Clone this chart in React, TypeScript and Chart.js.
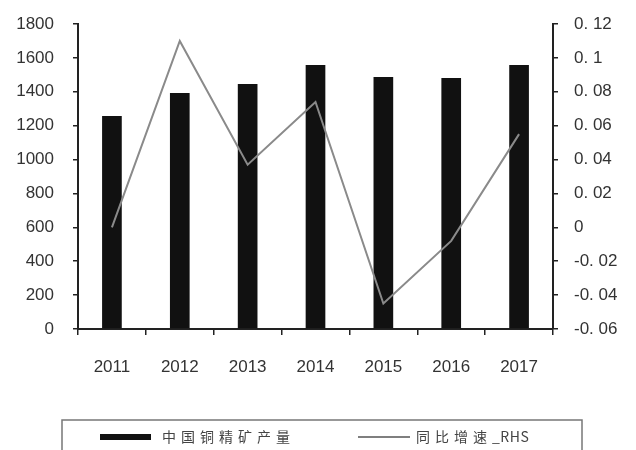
import React, { useEffect, useRef } from "react";
import { Chart, registerables } from "chart.js";

Chart.register(...registerables);

const categories = ["2011", "2012", "2013", "2014", "2015", "2016", "2017"];
const outputValues = [1257, 1393, 1446, 1558, 1487, 1481, 1558];
const growthValues = [0.0, 0.11, 0.037, 0.074, -0.045, -0.008, 0.055];
const leftTickLabels = ["0", "200", "400", "600", "800", "1000", "1200", "1400", "1600", "1800"];
const rightTickLabels = ["-0. 06", "-0. 04", "-0. 02", "0", "0. 02", "0. 04", "0. 06", "0. 08", "0. 1", "0. 12"];
const seriesNames = ["中国铜精矿产量", "同比增速_RHS"];

const FONT = "'Liberation Sans', Arial, sans-serif";
const CJK = "'Noto Sans CJK SC', 'Liberation Sans', sans-serif";

function drawSpaced(ctx: any, text: string, x: number, y: number) {
  let cx = x;
  for (const ch of Array.from(text)) {
    const isCjk = ch.charCodeAt(0) > 0x2e80;
    ctx.fillText(ch, cx, y);
    cx += ctx.measureText(ch).width + (isCjk ? 5 : 0.5);
  }
}

const legendPlugin = {
  id: "boxLegend",
  afterDraw(chart: any) {
    const ctx = chart.ctx;
    ctx.save();
    ctx.strokeStyle = "#777";
    ctx.lineWidth = 1.5;
    ctx.strokeRect(62, 420, 520, 40);
    const cy = 437;
    ctx.fillStyle = "#111";
    ctx.fillRect(100, cy - 3, 51, 6);
    ctx.fillStyle = "#444";
    ctx.font = `14px ${CJK}`;
    ctx.textBaseline = "middle";
    ctx.textAlign = "left";
    drawSpaced(ctx, chart.data.datasets[0].label, 162, cy);
    ctx.strokeStyle = "#555";
    ctx.lineWidth = 1.5;
    ctx.beginPath();
    ctx.moveTo(358, cy);
    ctx.lineTo(410, cy);
    ctx.stroke();
    drawSpaced(ctx, chart.data.datasets[1].label, 416, cy);
    ctx.restore();
  },
};

export default function App() {
  const ref = useRef<HTMLCanvasElement>(null);
  useEffect(() => {
    if (!ref.current) return;
    const chart = new Chart(ref.current, {
      type: "bar",
      data: {
        labels: categories,
        datasets: [
          {
            type: "bar",
            label: seriesNames[0],
            data: outputValues,
            backgroundColor: "#111111",
            borderWidth: 0,
            barPercentage: 0.29,
            categoryPercentage: 1,
            yAxisID: "y",
            order: 1,
          },
          {
            type: "line",
            label: seriesNames[1],
            data: growthValues,
            borderColor: "#8a8a8a",
            borderWidth: 2,
            pointRadius: 0,
            tension: 0,
            fill: false,
            yAxisID: "y1",
            order: 0,
          } as any,
        ],
      },
      options: {
        animation: false,
        responsive: false,
        maintainAspectRatio: false,
        layout: { padding: { top: 24, left: 0, right: 0, bottom: 0 } },
        plugins: { legend: { display: false }, tooltip: { enabled: false } },
        scales: {
          x: {
            offset: true,
            grid: {
              display: true,
              offset: true,
              drawOnChartArea: false,
              drawTicks: true,
              tickLength: 6,
              color: "#222",
              lineWidth: 1.5,
            },
            border: { display: true, color: "#222", width: 2 },
            ticks: { color: "#333", font: { family: FONT, size: 17 }, padding: 22, maxRotation: 0 },
            afterFit(scale: any) {
              scale.height = 121;
              scale.paddingLeft = 0;
              scale.paddingRight = 0;
            },
          },
          y: {
            position: "left",
            min: 0,
            max: 1800,
            grid: { display: true, drawOnChartArea: false, tickLength: 5, color: "#222", lineWidth: 1.5 },
            border: { display: true, color: "#222", width: 2 },
            ticks: {
              stepSize: 200,
              color: "#333",
              font: { family: FONT, size: 17 },
              padding: 19,
              callback: (_v: any, i: number) => leftTickLabels[i],
            },
            afterFit(scale: any) {
              scale.width = 78;
              scale.paddingTop = 0;
              scale.paddingBottom = 0;
            },
          },
          y1: {
            position: "right",
            min: -0.06,
            max: 0.12,
            grid: { display: true, drawOnChartArea: false, tickLength: 5, color: "#222", lineWidth: 1.5 },
            border: { display: true, color: "#222", width: 2 },
            ticks: {
              stepSize: 0.02,
              color: "#333",
              font: { family: FONT, size: 17 },
              padding: 16,
              callback: (_v: any, i: number) => rightTickLabels[i],
            },
            afterFit(scale: any) {
              scale.width = 83;
              scale.paddingTop = 0;
              scale.paddingBottom = 0;
            },
          },
        },
      },
      plugins: [legendPlugin],
    });
    return () => chart.destroy();
  }, []);
  return (
    <div style={{ position: "absolute", left: 0, top: 0, width: 636, height: 450, background: "#fff" }}>
      <canvas ref={ref} width={636} height={450} style={{ width: 636, height: 450 }} />
    </div>
  );
}
